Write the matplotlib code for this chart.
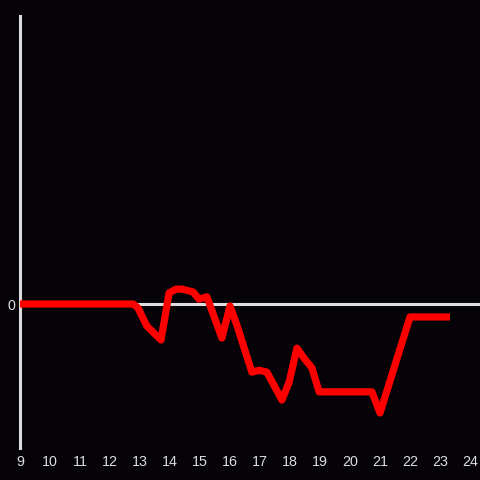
import matplotlib
matplotlib.use("Agg")
import matplotlib.pyplot as plt

x_vals = [9.0, 12.77, 12.93, 13.23, 13.7, 13.97, 14.2, 14.4, 14.77, 14.97, 15.23,
          15.73, 16.0, 16.23, 16.73, 16.97, 17.23, 17.73, 17.97, 18.23, 18.47,
          18.73, 18.97, 20.73, 21.0, 22.0, 23.33]
y_vals = [0.0, 0.0, -0.08, -0.46, -0.75, 0.23, 0.31, 0.31, 0.25, 0.1, 0.15,
          -0.71, -0.04, -0.44, -1.42, -1.38, -1.42, -2.0, -1.63, -0.92, -1.13,
          -1.33, -1.83, -1.83, -2.27, -0.27, -0.27]
x_ticks = list(range(9, 25))
y_ticks = [0]

bg = "#050307"
fg = "#dddddd"

fig = plt.figure(figsize=(4.8, 4.8), dpi=100, facecolor=bg)
ax = fig.add_axes([20/480, 32/480, 460/480, 432/480])
ax.set_facecolor(bg)

ax.axhline(0, color=fg, lw=2.2, zorder=1)
ax.plot(x_vals, y_vals, color="#ff0000", lw=5.2, solid_joinstyle="round",
        solid_capstyle="butt", zorder=3)

ax.set_xlim(9, 24.333)
ax.set_ylim(-3, 6)
ax.set_xticks(x_ticks)
ax.set_xticklabels([str(t) for t in x_ticks])
ax.set_yticks(y_ticks)
ax.set_yticklabels(["0"])

for s in ["top", "right", "bottom"]:
    ax.spines[s].set_visible(False)
ax.spines["left"].set_color(fg)
ax.spines["left"].set_linewidth(2.2)

ax.tick_params(axis="both", length=0, colors=fg, labelsize=10.3)
ax.tick_params(axis="x", pad=5)
ax.tick_params(axis="y", pad=3)
for lab in ax.get_xticklabels() + ax.get_yticklabels():
    lab.set_family("Liberation Sans")

fig.savefig("out.png", dpi=100, facecolor=bg)
